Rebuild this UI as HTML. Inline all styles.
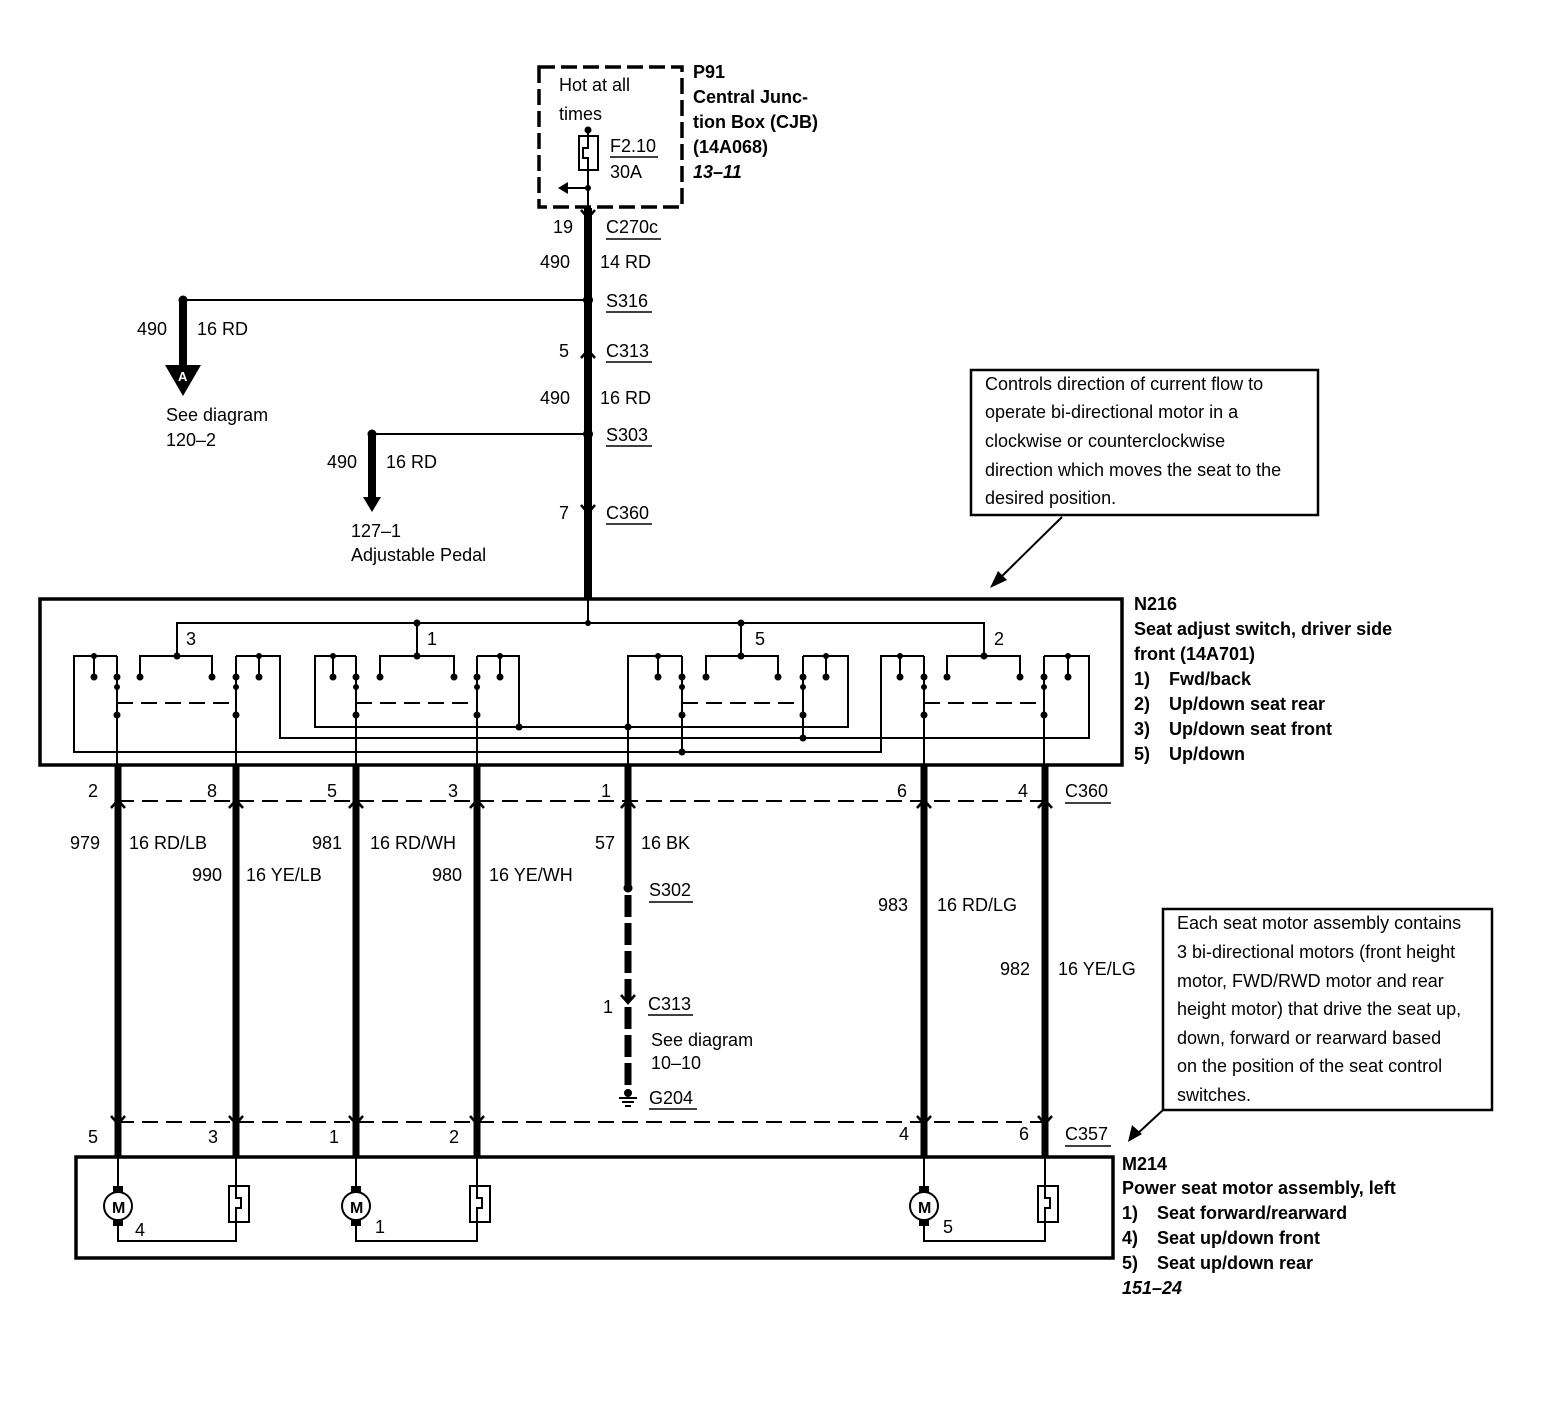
<!DOCTYPE html>
<html><head><meta charset="utf-8"><style>
html,body{margin:0;padding:0;background:#fff}
svg{display:block}
text{font-family:"Liberation Sans",sans-serif;font-size:18px;fill:#000;letter-spacing:0px}
.b{font-weight:bold}
.i{font-style:italic;font-weight:bold}
</style></head><body>
<svg width="1558" height="1408" viewBox="0 0 1558 1408" xmlns="http://www.w3.org/2000/svg">
<g stroke="#000" fill="none">
<rect x="539" y="67" width="143" height="140" stroke-width="3.5" stroke-dasharray="16,6"/>
<line x1="588" y1="130" x2="588" y2="208" stroke-width="2"/>
<rect x="579" y="136" width="19" height="34" stroke-width="2" fill="#fff"/>
<path d="M588 136 V148 H583 V158 H588 V170" stroke-width="2"/>
<line x1="588" y1="188" x2="566" y2="188" stroke-width="2"/>
<line x1="588" y1="208" x2="588" y2="598" stroke-width="8"/>
<line x1="183" y1="300" x2="588" y2="300" stroke-width="2"/>
<line x1="183" y1="300" x2="183" y2="370" stroke-width="8"/>
<line x1="372" y1="434" x2="588" y2="434" stroke-width="2"/>
<line x1="372" y1="434" x2="372" y2="500" stroke-width="8"/>
<path d="M581 358 L588 350 L595 358" stroke-width="2.5"/>
<path d="M581 505 L588 513 L595 505" stroke-width="2.5"/>
<path d="M581 210 L588 218 L595 210" stroke-width="2.5"/>

<rect x="40" y="599" width="1082" height="166" stroke-width="3.5"/>
<line x1="588" y1="599" x2="588" y2="623" stroke-width="2"/>
<polyline points="177,656 177,623 984,623 984,656" stroke-width="2"/>
<line x1="417" y1="623" x2="417" y2="656" stroke-width="2"/>
<line x1="741" y1="623" x2="741" y2="656" stroke-width="2"/>
<polyline points="117,656 74,656 74,752 881,752 881,656 924,656" stroke-width="2"/>
<line x1="94" y1="656" x2="94" y2="677" stroke-width="2"/>
<polyline points="140,677 140,656 212,656 212,677" stroke-width="2"/>
<polyline points="236,656 280,656 280,738 1089,738 1089,656 1044,656" stroke-width="2"/>
<line x1="259" y1="656" x2="259" y2="677" stroke-width="2"/>
<line x1="117" y1="656" x2="117" y2="765" stroke-width="2"/>
<line x1="236" y1="656" x2="236" y2="765" stroke-width="2"/>
<line x1="117" y1="703" x2="236" y2="703" stroke-width="2" stroke-dasharray="16,8"/>
<polyline points="356,656 315,656 315,727 848,727 848,656 803,656" stroke-width="2"/>
<line x1="333" y1="656" x2="333" y2="677" stroke-width="2"/>
<polyline points="380,677 380,656 454,656 454,677" stroke-width="2"/>
<polyline points="477,656 519,656 519,727" stroke-width="2"/>
<line x1="500" y1="656" x2="500" y2="677" stroke-width="2"/>
<line x1="356" y1="656" x2="356" y2="765" stroke-width="2"/>
<line x1="477" y1="656" x2="477" y2="765" stroke-width="2"/>
<line x1="356" y1="703" x2="477" y2="703" stroke-width="2" stroke-dasharray="16,8"/>
<polyline points="628,765 628,656 682,656" stroke-width="2"/>
<line x1="658" y1="656" x2="658" y2="677" stroke-width="2"/>
<polyline points="706,677 706,656 778,656 778,677" stroke-width="2"/>
<line x1="826" y1="656" x2="826" y2="677" stroke-width="2"/>
<line x1="682" y1="656" x2="682" y2="752" stroke-width="2"/>
<line x1="803" y1="656" x2="803" y2="738" stroke-width="2"/>
<line x1="682" y1="703" x2="803" y2="703" stroke-width="2" stroke-dasharray="16,8"/>
<line x1="900" y1="656" x2="900" y2="677" stroke-width="2"/>
<polyline points="947,677 947,656 1020,656 1020,677" stroke-width="2"/>
<line x1="1068" y1="656" x2="1068" y2="677" stroke-width="2"/>
<line x1="924" y1="656" x2="924" y2="765" stroke-width="2"/>
<line x1="1044" y1="656" x2="1044" y2="765" stroke-width="2"/>
<line x1="924" y1="703" x2="1044" y2="703" stroke-width="2" stroke-dasharray="16,8"/>

<g stroke-width="7">
<line x1="118" y1="765" x2="118" y2="1158"/>
<line x1="236" y1="765" x2="236" y2="1158"/>
<line x1="356" y1="765" x2="356" y2="1158"/>
<line x1="477" y1="765" x2="477" y2="1158"/>
<line x1="924" y1="765" x2="924" y2="1158"/>
<line x1="1045" y1="765" x2="1045" y2="1158"/>
<line x1="628" y1="765" x2="628" y2="885"/>
<line x1="628" y1="895" x2="628" y2="1088" stroke-dasharray="22,6"/>
</g>
<line x1="118" y1="801" x2="1045" y2="801" stroke-width="2" stroke-dasharray="16,8"/>
<line x1="118" y1="1122" x2="1045" y2="1122" stroke-width="2" stroke-dasharray="16,8"/>
<g stroke-width="2.5">
<path d="M111 808 L118 800 L125 808"/><path d="M229 808 L236 800 L243 808"/><path d="M349 808 L356 800 L363 808"/><path d="M470 808 L477 800 L484 808"/><path d="M621 808 L628 800 L635 808"/><path d="M917 808 L924 800 L931 808"/><path d="M1038 808 L1045 800 L1052 808"/>
<path d="M111 1116 L118 1124 L125 1116"/><path d="M229 1116 L236 1124 L243 1116"/><path d="M349 1116 L356 1124 L363 1116"/><path d="M470 1116 L477 1124 L484 1116"/><path d="M917 1116 L924 1124 L931 1116"/><path d="M1038 1116 L1045 1124 L1052 1116"/>
<path d="M621 995 L628 1003 L635 995"/>
</g>
<line x1="619" y1="1098" x2="637" y2="1098" stroke-width="2"/>
<line x1="622" y1="1102" x2="634" y2="1102" stroke-width="2"/>
<line x1="625" y1="1106" x2="631" y2="1106" stroke-width="2"/>

<rect x="76" y="1157" width="1037" height="101" stroke-width="3.5"/>
<g stroke-width="2">
<line x1="118" y1="1158" x2="118" y2="1190"/><polyline points="118,1222 118,1241 236,1241 236,1158"/><rect x="229" y="1186" width="20" height="36" fill="#fff"/><path d="M236 1186 V1198 H241 V1208 H236 V1222"/>
<line x1="356" y1="1158" x2="356" y2="1190"/><polyline points="356,1222 356,1241 477,1241 477,1158"/><rect x="470" y="1186" width="20" height="36" fill="#fff"/><path d="M477 1186 V1198 H482 V1208 H477 V1222"/>
<line x1="924" y1="1158" x2="924" y2="1190"/><polyline points="924,1222 924,1241 1045,1241 1045,1158"/><rect x="1038" y="1186" width="20" height="36" fill="#fff"/><path d="M1045 1186 V1198 H1050 V1208 H1045 V1222"/>
</g>
<rect x="971" y="370" width="347" height="145" stroke-width="2.5"/>
<line x1="1062" y1="517" x2="998" y2="580" stroke-width="2"/>
<rect x="1163" y="909" width="329" height="201" stroke-width="2.5"/>
<line x1="1163" y1="1110" x2="1136" y2="1135" stroke-width="2"/>
<g stroke-width="1.5">
<line x1="606" y1="239" x2="661" y2="239"/><line x1="606" y1="312" x2="652" y2="312"/><line x1="606" y1="362" x2="652" y2="362"/><line x1="606" y1="446" x2="652" y2="446"/><line x1="606" y1="524" x2="652" y2="524"/>
<line x1="610" y1="157" x2="658" y2="157"/>
<line x1="1065" y1="803" x2="1111" y2="803"/><line x1="1065" y1="1146" x2="1111" y2="1146"/>
<line x1="649" y1="902" x2="693" y2="902"/><line x1="648" y1="1015" x2="693" y2="1015"/><line x1="649" y1="1109" x2="697" y2="1109"/>
</g>
</g>
<g fill="#000">
<polygon points="165,365 201,365 183,396"/>
<polygon points="363,497 381,497 372,512"/>
<polygon points="558,188 568,182 568,194"/>
<polygon points="990,588 998,571 1007,580"/>
<polygon points="1128,1142 1132,1125 1142,1134"/>
<circle cx="588" cy="130" r="3.5"/><circle cx="588" cy="188" r="3"/>
<circle cx="183" cy="300" r="4.5"/><circle cx="588" cy="300" r="5"/>
<circle cx="372" cy="434" r="4.5"/><circle cx="588" cy="434" r="5"/>
<circle cx="628" cy="888" r="4.5"/>
<circle cx="588" cy="623" r="3"/><circle cx="417" cy="623" r="3.5"/><circle cx="741" cy="623" r="3.5"/>
<circle cx="177" cy="656" r="3.5"/><circle cx="417" cy="656" r="3.5"/><circle cx="741" cy="656" r="3.5"/><circle cx="984" cy="656" r="3.5"/>
<circle cx="94" cy="656" r="3"/><circle cx="259" cy="656" r="3"/><circle cx="333" cy="656" r="3"/><circle cx="500" cy="656" r="3"/><circle cx="658" cy="656" r="3"/><circle cx="826" cy="656" r="3"/><circle cx="900" cy="656" r="3"/><circle cx="1068" cy="656" r="3"/>
<circle cx="94" cy="677" r="3.5"/><circle cx="140" cy="677" r="3.5"/><circle cx="212" cy="677" r="3.5"/><circle cx="259" cy="677" r="3.5"/>
<circle cx="333" cy="677" r="3.5"/><circle cx="380" cy="677" r="3.5"/><circle cx="454" cy="677" r="3.5"/><circle cx="500" cy="677" r="3.5"/>
<circle cx="658" cy="677" r="3.5"/><circle cx="706" cy="677" r="3.5"/><circle cx="778" cy="677" r="3.5"/><circle cx="826" cy="677" r="3.5"/>
<circle cx="900" cy="677" r="3.5"/><circle cx="947" cy="677" r="3.5"/><circle cx="1020" cy="677" r="3.5"/><circle cx="1068" cy="677" r="3.5"/>
<circle cx="117" cy="677" r="3.5"/><circle cx="236" cy="677" r="3.5"/><circle cx="356" cy="677" r="3.5"/><circle cx="477" cy="677" r="3.5"/><circle cx="682" cy="677" r="3.5"/><circle cx="803" cy="677" r="3.5"/><circle cx="924" cy="677" r="3.5"/><circle cx="1044" cy="677" r="3.5"/>
<circle cx="117" cy="687" r="3"/><circle cx="236" cy="687" r="3"/><circle cx="356" cy="687" r="3"/><circle cx="477" cy="687" r="3"/><circle cx="682" cy="687" r="3"/><circle cx="803" cy="687" r="3"/><circle cx="924" cy="687" r="3"/><circle cx="1044" cy="687" r="3"/>
<circle cx="117" cy="715" r="3.5"/><circle cx="236" cy="715" r="3.5"/><circle cx="356" cy="715" r="3.5"/><circle cx="477" cy="715" r="3.5"/><circle cx="682" cy="715" r="3.5"/><circle cx="803" cy="715" r="3.5"/><circle cx="924" cy="715" r="3.5"/><circle cx="1044" cy="715" r="3.5"/>
<circle cx="519" cy="727" r="3.5"/><circle cx="628" cy="727" r="3.5"/><circle cx="803" cy="738" r="3.5"/><circle cx="682" cy="752" r="3.5"/>
<rect x="113" y="1186" width="10" height="6"/><rect x="113" y="1220" width="10" height="6"/>
<rect x="351" y="1186" width="10" height="6"/><rect x="351" y="1220" width="10" height="6"/>
<rect x="919" y="1186" width="10" height="6"/><rect x="919" y="1220" width="10" height="6"/>
<circle cx="628" cy="1093" r="4"/>
</g>
<g stroke="#000" stroke-width="2" fill="#fff">
<circle cx="118" cy="1206" r="14"/><circle cx="356" cy="1206" r="14"/><circle cx="924" cy="1206" r="14"/>
</g>
<text x="112" y="1213" class="b" style="font-size:16px">M</text><text x="350" y="1213" class="b" style="font-size:16px">M</text><text x="918" y="1213" class="b" style="font-size:16px">M</text>
<text x="178" y="381" style="font-size:13px;fill:#fff" class="b">A</text>

<text x="559" y="91">Hot at all</text>
<text x="559" y="120">times</text>
<text x="610" y="152">F2.10</text>
<text x="610" y="178">30A</text>
<text x="693" y="78" class="b">P91</text>
<text x="693" y="103" class="b">Central Junc-</text>
<text x="693" y="128" class="b">tion Box (CJB)</text>
<text x="693" y="153" class="b">(14A068)</text>
<text x="693" y="178" class="i">13–11</text>
<text x="553" y="233">19</text><text x="606" y="233">C270c</text>
<text x="540" y="268">490</text><text x="600" y="268">14 RD</text>
<text x="606" y="307">S316</text>
<text x="137" y="335">490</text><text x="197" y="335">16 RD</text>
<text x="559" y="357">5</text><text x="606" y="357">C313</text>
<text x="540" y="404">490</text><text x="600" y="404">16 RD</text>
<text x="166" y="421">See diagram</text><text x="166" y="446">120–2</text>
<text x="606" y="441">S303</text>
<text x="327" y="468">490</text><text x="386" y="468">16 RD</text>
<text x="559" y="519">7</text><text x="606" y="519">C360</text>
<text x="351" y="537">127–1</text><text x="351" y="561">Adjustable Pedal</text>
<text x="985" y="390">Controls direction of current flow to</text>
<text x="985" y="418">operate bi-directional motor in a</text>
<text x="985" y="447">clockwise or counterclockwise</text>
<text x="985" y="476">direction which moves the seat to the</text>
<text x="985" y="504">desired position.</text>
<text x="1134" y="610" class="b">N216</text>
<text x="1134" y="635" class="b">Seat adjust switch, driver side</text>
<text x="1134" y="660" class="b">front (14A701)</text>
<text x="1134" y="685" class="b">1)</text><text x="1169" y="685" class="b">Fwd/back</text>
<text x="1134" y="710" class="b">2)</text><text x="1169" y="710" class="b">Up/down seat rear</text>
<text x="1134" y="735" class="b">3)</text><text x="1169" y="735" class="b">Up/down seat front</text>
<text x="1134" y="760" class="b">5)</text><text x="1169" y="760" class="b">Up/down</text>
<text x="186" y="645">3</text><text x="427" y="645">1</text><text x="755" y="645">5</text><text x="994" y="645">2</text>
<text x="88" y="797">2</text><text x="207" y="797">8</text><text x="327" y="797">5</text><text x="448" y="797">3</text><text x="601" y="797">1</text><text x="897" y="797">6</text><text x="1018" y="797">4</text><text x="1065" y="797">C360</text>
<text x="70" y="849">979</text><text x="129" y="849">16 RD/LB</text>
<text x="312" y="849">981</text><text x="370" y="849">16 RD/WH</text>
<text x="595" y="849">57</text><text x="641" y="849">16 BK</text>
<text x="192" y="881">990</text><text x="246" y="881">16 YE/LB</text>
<text x="432" y="881">980</text><text x="489" y="881">16 YE/WH</text>
<text x="649" y="896">S302</text>
<text x="878" y="911">983</text><text x="937" y="911">16 RD/LG</text>
<text x="1000" y="975">982</text><text x="1058" y="975">16 YE/LG</text>
<text x="603" y="1013">1</text><text x="648" y="1010">C313</text>
<text x="651" y="1046">See diagram</text><text x="651" y="1069">10–10</text>
<text x="649" y="1104">G204</text>
<text x="1177" y="929">Each seat motor assembly contains</text>
<text x="1177" y="958">3 bi-directional motors (front height</text>
<text x="1177" y="987">motor, FWD/RWD motor and rear</text>
<text x="1177" y="1015">height motor) that drive the seat up,</text>
<text x="1177" y="1044">down, forward or rearward based</text>
<text x="1177" y="1072">on the position of the seat control</text>
<text x="1177" y="1101">switches.</text>
<text x="88" y="1143">5</text><text x="208" y="1143">3</text><text x="329" y="1143">1</text><text x="449" y="1143">2</text><text x="899" y="1140">4</text><text x="1019" y="1140">6</text><text x="1065" y="1140">C357</text>
<text x="135" y="1236">4</text><text x="375" y="1233">1</text><text x="943" y="1233">5</text>
<text x="1122" y="1170" class="b">M214</text>
<text x="1122" y="1194" class="b">Power seat motor assembly, left</text>
<text x="1122" y="1219" class="b">1)</text><text x="1157" y="1219" class="b">Seat forward/rearward</text>
<text x="1122" y="1244" class="b">4)</text><text x="1157" y="1244" class="b">Seat up/down front</text>
<text x="1122" y="1269" class="b">5)</text><text x="1157" y="1269" class="b">Seat up/down rear</text>
<text x="1122" y="1294" class="i">151–24</text>
</svg>
</body></html>
